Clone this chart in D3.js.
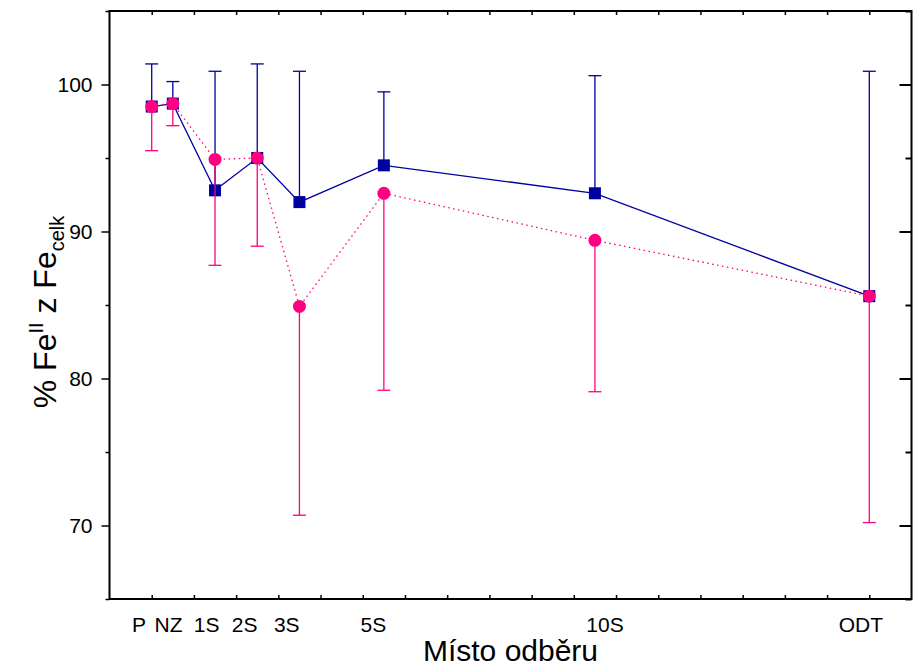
<!DOCTYPE html>
<html><head><meta charset="utf-8">
<script src="https://cdn.jsdelivr.net/npm/d3@7"></script>
<style>body{margin:0;background:#fff}text{font-family:Arial,"Liberation Sans",sans-serif}</style>
</head><body>
<svg id="c" width="914" height="667"></svg>
<script>
const categories = ["P","NZ","1S","2S","3S","5S","10S","ODT"];
const positions = [0,0.5,1.5,2.5,3.5,5.5,10.5,17];
const labelPositions = [-0.3,0.4,1.3,2.2,3.2,5.25,10.74,16.8];
const blueValues = [98.5,98.7,92.8,95.0,92.0,94.5,92.6,85.6];
const blueUpper = [101.4,100.2,100.9,101.4,100.9,99.5,100.6,100.9];
const pinkValues = [98.5,98.7,94.9,95.0,84.9,92.6,89.4,85.6];
const pinkLower = [95.5,97.2,87.7,89.0,70.7,79.2,79.1,70.2];
const yTicks = [70,80,90,100];
const yMinorTicks = [65,75,85,95,105];
const xMinorTicks = d3.range(0,18);

const BLUE = "#0000A0", PINK = "#FF0080";
const L = 109.5, R = 911.5, T = 11, B = 599;
const svg = d3.select("#c");
const x = d3.scaleLinear().domain([-1,18]).range([L,R]);
const y = d3.scaleLinear().domain([65,105]).range([B,T]);

const styleLines = (a,w)=>{a.select(".domain").remove(); a.selectAll("line").attr("stroke","#000").attr("stroke-width",w);};
svg.append("g").attr("transform",`translate(0,${B})`)
  .call(d3.axisBottom(x).tickValues(xMinorTicks).tickSize(-4).tickFormat(""))
  .call(a=>styleLines(a,1.5));
svg.append("g").attr("transform",`translate(0,${T})`)
  .call(d3.axisTop(x).tickValues(xMinorTicks).tickSize(-4).tickFormat(""))
  .call(a=>styleLines(a,1.5));
svg.append("g").attr("transform",`translate(${L},0)`)
  .call(d3.axisLeft(y).tickValues(yTicks).tickSize(8).tickPadding(9).tickFormat(d3.format("d")))
  .call(a=>{styleLines(a,1.5);
    a.selectAll("text").attr("font-size",21).attr("fill","#000").attr("font-family","Arial, 'Liberation Sans', sans-serif");});
svg.append("g").attr("transform",`translate(${L},0)`)
  .call(d3.axisLeft(y).tickValues(yMinorTicks).tickSize(4).tickFormat(""))
  .call(a=>styleLines(a,1.5));
svg.append("g").attr("transform",`translate(${R},0)`)
  .call(d3.axisRight(y).tickValues(yTicks).tickSize(-12).tickFormat(""))
  .call(a=>styleLines(a,2));
svg.append("g").attr("transform",`translate(${R},0)`)
  .call(d3.axisRight(y).tickValues(yMinorTicks).tickSize(-6).tickFormat(""))
  .call(a=>styleLines(a,2));
svg.append("rect").attr("x",L).attr("y",T).attr("width",R-L).attr("height",B-T)
  .attr("fill","none").attr("stroke","#000").attr("stroke-width",2);

svg.append("g").selectAll("text").data(categories).join("text")
  .attr("x",(d,i)=>x(labelPositions[i])).attr("y",632)
  .attr("text-anchor","middle").attr("font-size",21).attr("fill","#000").text(d=>d);

svg.append("text").attr("x",(L+R)/2).attr("y",661).attr("text-anchor","middle")
  .attr("font-size",30).attr("fill","#000").text("Místo odběru");
const yt = svg.append("text").attr("transform",`translate(56,312) rotate(-90)`)
  .attr("text-anchor","middle").attr("font-size",32).attr("fill","#000");
yt.append("tspan").text("% Fe");
yt.append("tspan").attr("font-size",20).attr("dy",-13).text("II");
yt.append("tspan").attr("dy",13).text(" z Fe");
yt.append("tspan").attr("font-size",20).attr("dy",8).text("celk");

const idx = d3.range(categories.length);
const line = vals => d3.line().x(i=>x(positions[i])).y(i=>y(vals[i]))(idx);
svg.append("path").attr("d",line(blueValues)).attr("fill","none").attr("stroke",BLUE).attr("stroke-width",1.3);
const be = svg.append("g").attr("stroke",BLUE).attr("stroke-width",1.3);
idx.forEach(i=>{
  be.append("line").attr("x1",x(positions[i])).attr("x2",x(positions[i])).attr("y1",y(blueValues[i])).attr("y2",y(blueUpper[i]));
  be.append("line").attr("x1",x(positions[i])-6.5).attr("x2",x(positions[i])+6.5).attr("y1",y(blueUpper[i])).attr("y2",y(blueUpper[i]));
});
svg.append("g").selectAll("rect").data(idx).join("rect")
  .attr("x",i=>x(positions[i])-6).attr("y",i=>y(blueValues[i])-6).attr("width",12).attr("height",12).attr("fill",BLUE);

svg.append("path").attr("d",line(pinkValues)).attr("fill","none").attr("stroke",PINK).attr("stroke-width",1.3).attr("stroke-dasharray","1.5,3.5");
const pe = svg.append("g").attr("stroke",PINK).attr("stroke-width",1.3);
idx.forEach(i=>{
  pe.append("line").attr("x1",x(positions[i])).attr("x2",x(positions[i])).attr("y1",y(pinkValues[i])).attr("y2",y(pinkLower[i]));
  pe.append("line").attr("x1",x(positions[i])-6.5).attr("x2",x(positions[i])+6.5).attr("y1",y(pinkLower[i])).attr("y2",y(pinkLower[i]));
});
svg.append("g").selectAll("circle").data(idx).join("circle")
  .attr("cx",i=>x(positions[i])).attr("cy",i=>y(pinkValues[i])).attr("r",6.5).attr("fill",PINK);
</script>
</body></html>
